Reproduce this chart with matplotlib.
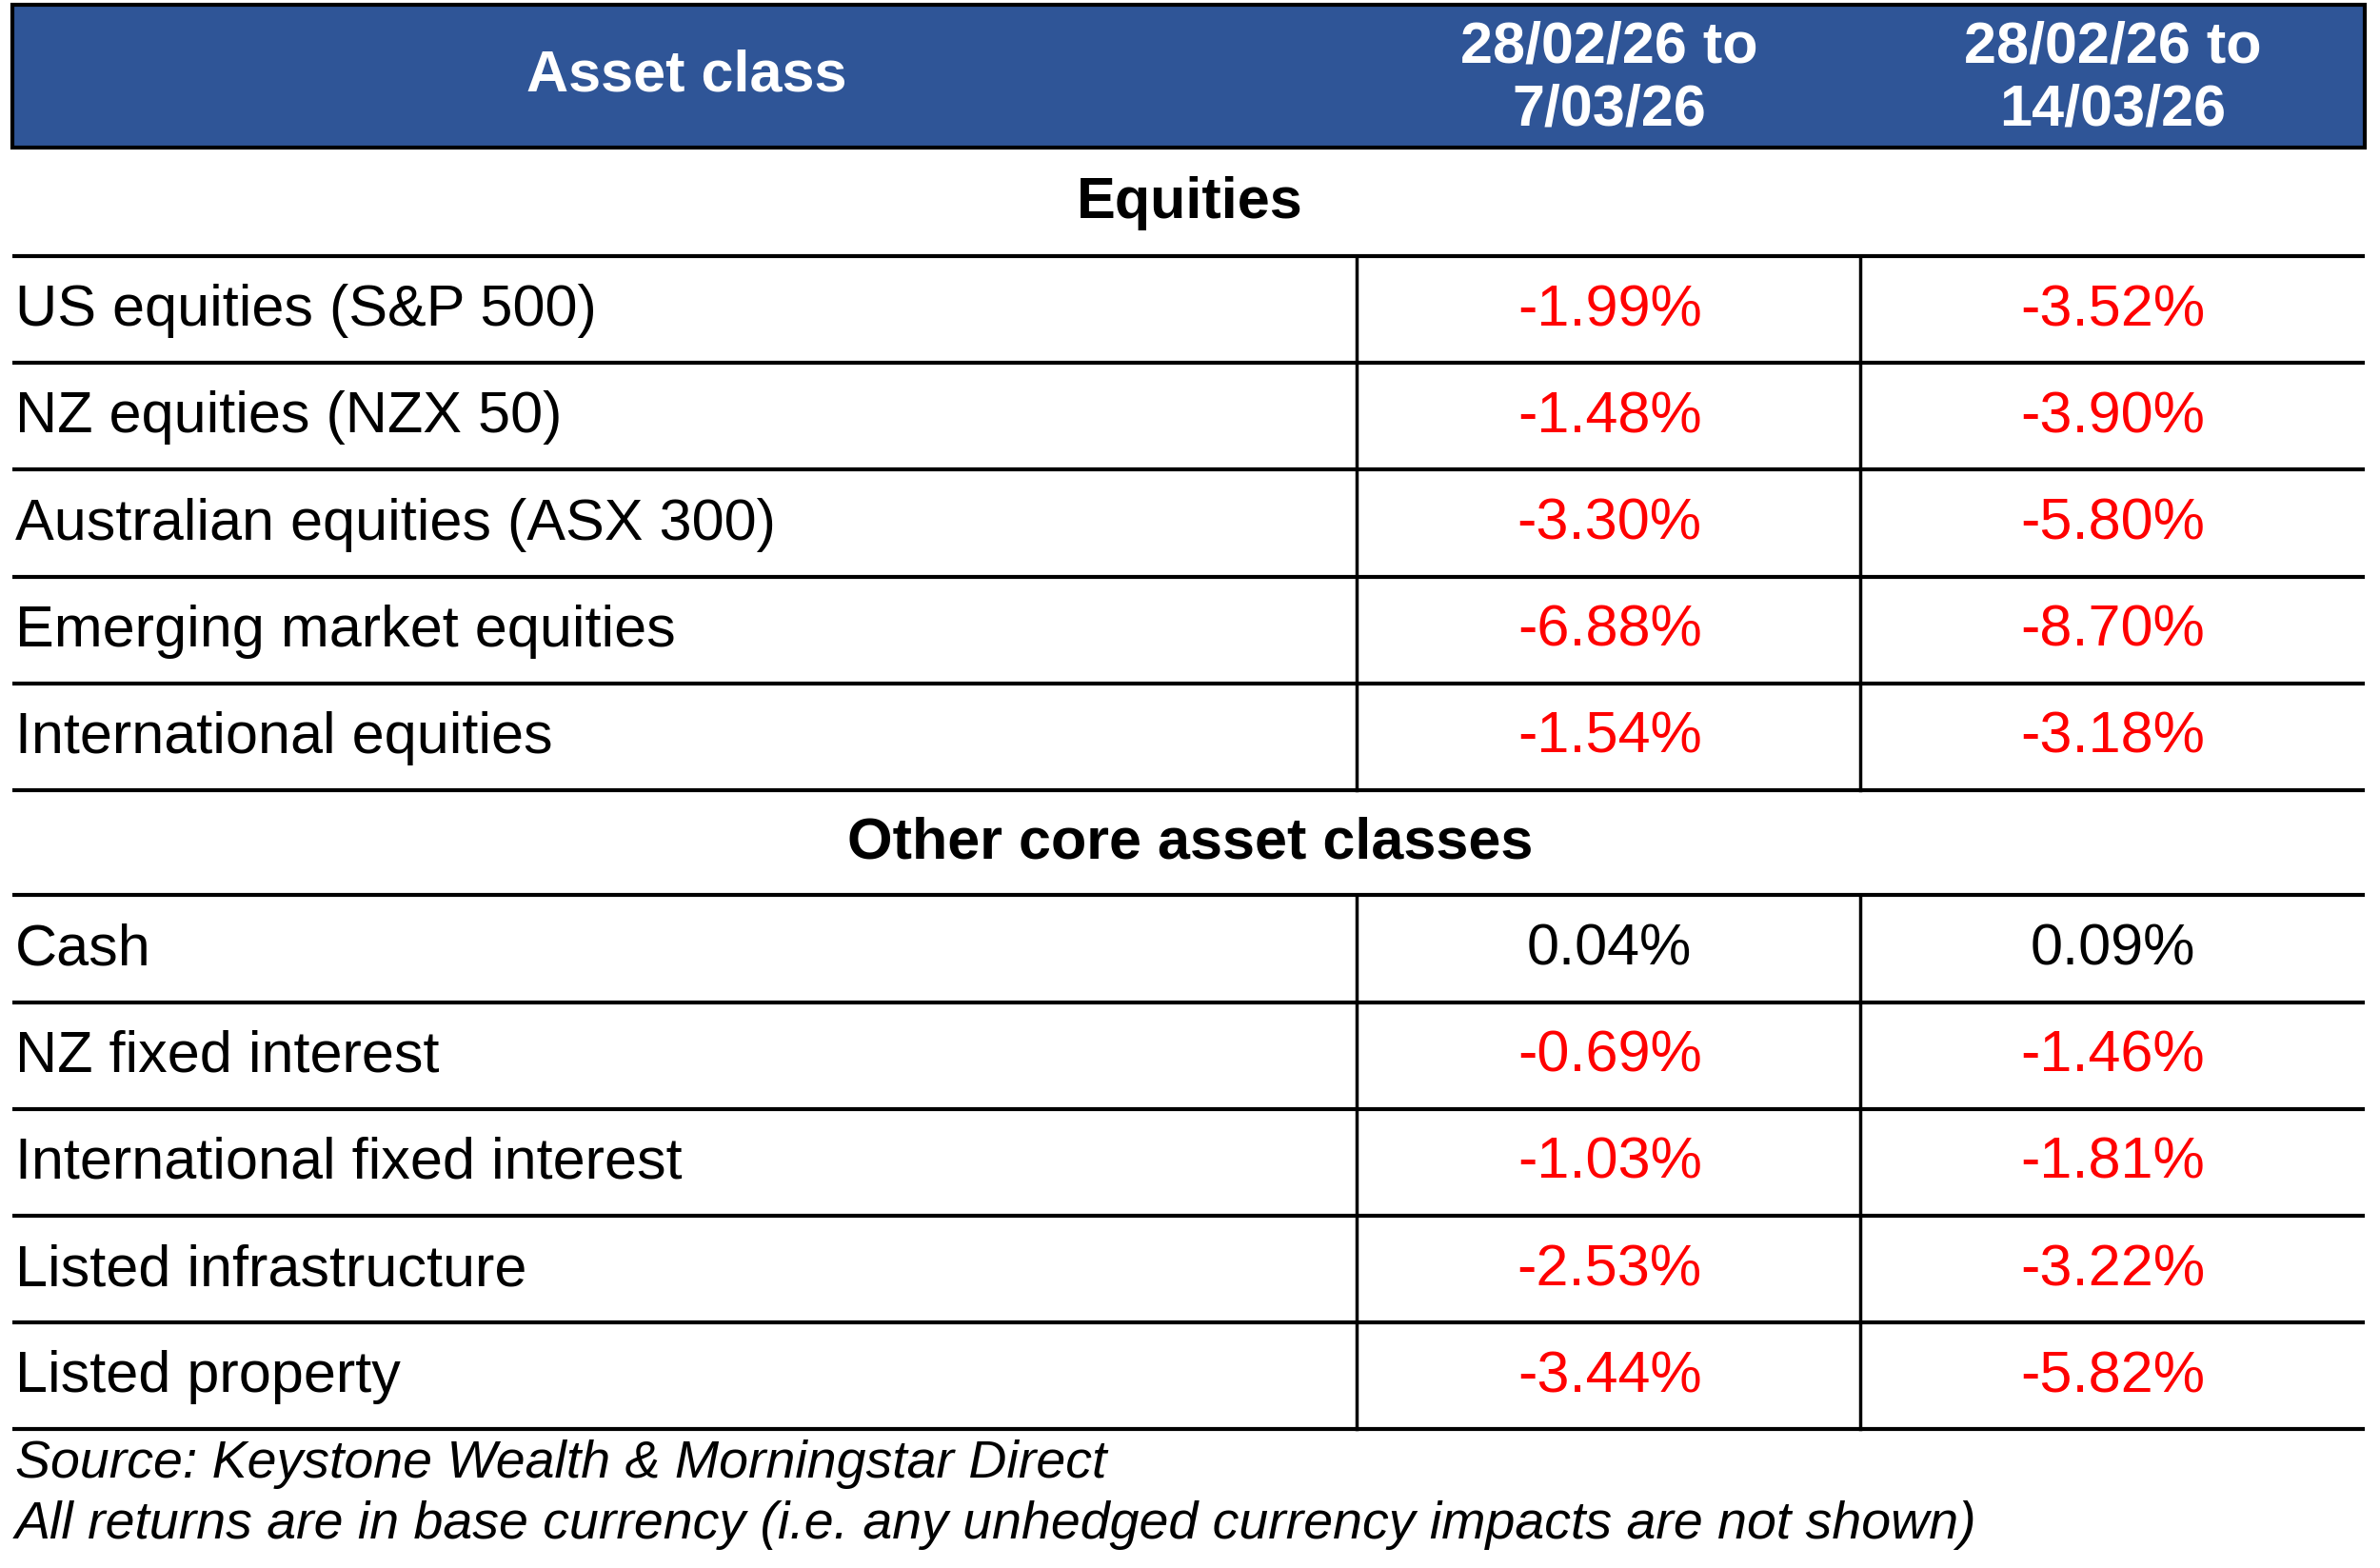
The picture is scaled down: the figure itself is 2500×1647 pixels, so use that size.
import matplotlib
matplotlib.use('Agg')
import matplotlib.pyplot as plt
from matplotlib.patches import Rectangle

plt.rcParams['font.family'] = ['Liberation Sans', 'DejaVu Sans']

# data
col_headers = ['Asset class', '28/02/26 to\n7/03/26', '28/02/26 to\n14/03/26']
equity_names = ['US equities (S&P 500)', 'NZ equities (NZX 50)', 'Australian equities (ASX 300)',
                'Emerging market equities', 'International equities']
equity_wk1 = [-1.99, -1.48, -3.30, -6.88, -1.54]
equity_wk2 = [-3.52, -3.90, -5.80, -8.70, -3.18]
other_names = ['Cash', 'NZ fixed interest', 'International fixed interest',
               'Listed infrastructure', 'Listed property']
other_wk1 = [0.04, -0.69, -1.03, -2.53, -3.44]
other_wk2 = [0.09, -1.46, -1.81, -3.22, -5.82]
notes = ['Source: Keystone Wealth & Morningstar Direct',
         'All returns are in base currency (i.e. any unhedged currency impacts are not shown)']

fig = plt.figure(figsize=(25, 16.47), dpi=100)
ax = fig.add_axes([0, 0, 1, 1])
ax.set_xlim(0, 1560)
ax.set_ylim(1028, 0)
ax.axis('off')

fs = 44
blue = '#2f5597'
c1, c2 = 1055, 1385
x_left, x_right = 8, 1550
v1, v2 = 889, 1219

ax.add_patch(Rectangle((x_left, 3), x_right - x_left, 94, facecolor=blue, edgecolor='black', lw=3))
ax.text(450, 50, col_headers[0], color='white', fontsize=fs, fontweight='bold', ha='center', va='center')
ax.text(c1, 52, col_headers[1], color='white', fontsize=fs, fontweight='bold', ha='center', va='center', linespacing=1.2)
ax.text(c2, 52, col_headers[2], color='white', fontsize=fs, fontweight='bold', ha='center', va='center', linespacing=1.2)


def section(title, title_y, top, names, a, b):
    ax.text(780, title_y, title, fontsize=fs, fontweight='bold', ha='center', va='center')
    h = 70
    ys = [top + i * h for i in range(len(names) + 1)]
    for y in ys:
        ax.plot([x_left, x_right], [y, y], color='black', lw=3, solid_capstyle='butt')
    for v in (v1, v2):
        ax.plot([v, v], [ys[0], ys[-1]], color='black', lw=2.5)
    for i, name in enumerate(names):
        yc = ys[i] + h / 2 + 1
        ax.text(10, yc, name, fontsize=fs, ha='left', va='center')
        for val, cx in ((a[i], c1), (b[i], c2)):
            ax.text(cx, yc, f'{val:.2f}%', fontsize=fs, ha='center', va='center',
                    color='red' if val < 0 else 'black')


section('Equities', 133, 168, equity_names, equity_wk1, equity_wk2)
section('Other core asset classes', 553, 587, other_names, other_wk1, other_wk2)

ax.text(10, 960, notes[0], fontsize=40, style='italic', ha='left', va='center')
ax.text(10, 1000, notes[1], fontsize=40, style='italic', ha='left', va='center')

fig.savefig('out.png', dpi=100, facecolor='white')
